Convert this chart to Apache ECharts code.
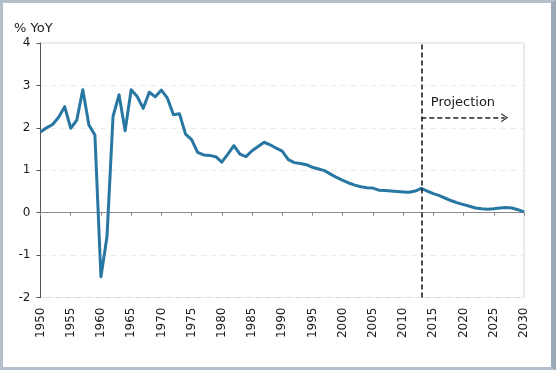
<!DOCTYPE html>
<html>
<head>
<meta charset="utf-8">
<script src="https://cdn.jsdelivr.net/npm/echarts@6/dist/echarts.min.js"></script>
<style>
  html, body { margin: 0; padding: 0; background: #ffffff; }
  #chart { position: absolute; left: 0; top: 0; width: 556px; height: 370px; }
  #frame { position: absolute; left: 0; top: 0; width: 556px; height: 370px; box-sizing: border-box;
           border-style: solid; border-width: 3px 5px 3px 3px; border-color: #b3bfcb #9ba9b7 #b3bfcb #b3bfcb;
           pointer-events: none; }
</style>
</head>
<body>
<div id="chart"></div>
<div id="frame"></div>
<script>
// ---- data ----
const years = [];
for (let y = 1950; y <= 2030; y++) years.push(y);
const yearLabels = years.map(y => String(y));
const growth = [
  1.90, 2.00, 2.08, 2.25, 2.50, 1.99, 2.18, 2.90, 2.07, 1.83,   // 1950-1959
  -1.51, -0.57, 2.27, 2.78, 1.93, 2.90, 2.74, 2.46, 2.84, 2.73, // 1960-1969
  2.89, 2.70, 2.31, 2.33, 1.85, 1.72, 1.42, 1.36, 1.35, 1.32,   // 1970-1979
  1.19, 1.38, 1.58, 1.38, 1.32, 1.46, 1.56, 1.66, 1.60, 1.52,   // 1980-1989
  1.45, 1.25, 1.18, 1.16, 1.13, 1.07, 1.03, 0.99, 0.91, 0.83,   // 1990-1999
  0.76, 0.70, 0.65, 0.61, 0.59, 0.58, 0.53, 0.52, 0.51, 0.50,   // 2000-2009
  0.49, 0.48, 0.51, 0.57, 0.51, 0.45, 0.40, 0.34, 0.28, 0.23,   // 2010-2019
  0.19, 0.15, 0.11, 0.09, 0.08, 0.09, 0.11, 0.12, 0.11, 0.07,   // 2020-2029
  0.02                                                          // 2030
];
const xTickStep = 5;
const xMin = 1950;
const xMax = 2030;
const yTicks = [-2, -1, 0, 1, 2, 3, 4];
const projectionStart = 2013;
const projectionArrowEnd = 2026.8;
const projectionArrowLevel = 2.24;
const titleText = '% YoY';
const projectionLabel = 'Projection';

const FONT = 'DejaVu Sans';
const seriesData = years.map((y, i) => [y, growth[i]]);
const chevron = 'path://M0,100 L50,0 L100,100 L86,100 L50,26 L14,100 Z';

const chart = echarts.init(document.getElementById('chart'), null, { renderer: 'canvas' });
chart.setOption({
  animation: false,
  backgroundColor: '#ffffff',
  title: {
    text: titleText,
    left: 9, top: 17,
    textStyle: { fontFamily: FONT, fontSize: 13, fontWeight: 'normal', color: '#1a1a1a' }
  },
  grid: {
    left: 40.5, top: 43, right: 32, bottom: 72.5,
    show: true, borderColor: '#d6d6d6', borderWidth: 1, backgroundColor: 'transparent'
  },
  xAxis: [
    {
      type: 'value', min: xMin, max: xMax, interval: xTickStep, position: 'bottom',
      axisLine: { show: false, onZero: false },
      axisTick: { show: false },
      axisLabel: { show: false },
      splitLine: { show: false }
    },
    {
      type: 'value', min: xMin, max: xMax, interval: xTickStep, position: 'bottom',
      axisLine: { show: true, onZero: true, lineStyle: { color: '#8a8a8a', width: 1 } },
      axisTick: { show: true, length: 3, lineStyle: { color: '#8a8a8a' } },
      axisLabel: { show: false },
      splitLine: { show: false }
    },
    {
      type: 'category', data: yearLabels, boundaryGap: false, position: 'bottom',
      axisLine: { show: false, onZero: false },
      axisTick: { show: false },
      axisLabel: {
        show: true, interval: xTickStep - 1, rotate: 90, margin: 10,
        fontFamily: FONT, fontSize: 12, color: '#1a1a1a'
      },
      splitLine: { show: false }
    }
  ],
  yAxis: {
    type: 'value', min: yTicks[0], max: yTicks[yTicks.length - 1], interval: 1,
    axisLine: { show: true, lineStyle: { color: '#555555', width: 1 } },
    axisTick: { show: true, length: 4, lineStyle: { color: '#555555' } },
    axisLabel: { margin: 10, fontFamily: FONT, fontSize: 12, color: '#1a1a1a', formatter: v => String(v) },
    splitLine: { show: true, lineStyle: { color: '#ececec', type: [6, 4], width: 1 } }
  },
  series: [{
    type: 'line',
    xAxisIndex: 0,
    data: seriesData,
    showSymbol: false,
    lineStyle: { color: '#2777a2', width: 3, join: 'round' },
    itemStyle: { color: '#2777a2' },
    markLine: {
      silent: true,
      animation: false,
      data: [
        [
          { coord: [projectionStart, yTicks[0]], symbol: 'none' },
          { coord: [projectionStart, yTicks[yTicks.length - 1]], symbol: 'none' }
        ],
        [
          {
            coord: [projectionStart, projectionArrowLevel], symbol: 'none',
            label: {
              show: true, position: 'middle', distance: 9, formatter: projectionLabel,
              fontFamily: FONT, fontSize: 13, color: '#1a1a1a'
            }
          },
          { coord: [projectionArrowEnd, projectionArrowLevel], symbol: chevron, symbolSize: [9, 7] }
        ]
      ],
      lineStyle: { color: '#222222', type: [5, 3], width: 1.6 },
      label: { show: false }
    }
  }]
});
</script>
</body>
</html>
